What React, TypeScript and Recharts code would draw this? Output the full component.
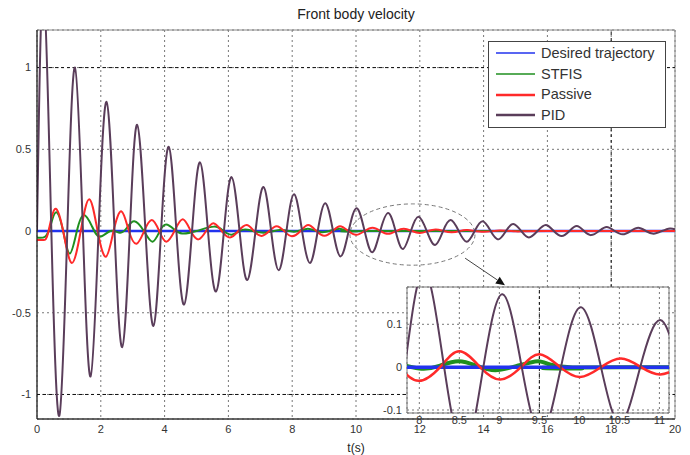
import {
  LineChart,
  Line,
  XAxis,
  YAxis,
  CartesianGrid,
  Legend,
  ReferenceArea,
  ReferenceLine,
} from 'recharts'

// axis ticks
const TIME_TICKS = [0, 2, 4, 6, 8, 10, 12, 14, 16, 18, 20]
const VEL_TICKS = [-1, -0.5, 0, 0.5, 1]
const ZOOM_T_TICKS = [8, 8.5, 9, 9.5, 10, 10.5, 11]
const ZOOM_V_TICKS = [-0.1, 0, 0.1]

// series (extrema + zero crossings)
const DESIRED_T = [0, 20]
const DESIRED_V = [0, 0]

const STFIS_T = [0, 0.25, 0.42, 0.6, 0.82, 1.03, 1.25, 1.47, 1.72, 1.97, 2.3, 2.6, 2.82, 3.05, 3.35, 3.62, 3.85, 4.05, 4.3, 4.55, 5.0, 5.55, 5.85, 6.1, 6.35, 6.6, 7.1, 7.6, 8.0, 8.25, 8.49, 8.72, 8.95, 9.22, 9.49, 9.72, 9.95, 10.5, 20]
const STFIS_V = [-0.04, -0.035, 0.03, 0.115, 0, -0.137, 0, 0.098, 0.03, -0.035, 0, -0.01, 0.02, 0.06, 0, -0.065, 0, 0.04, 0.01, -0.015, 0, 0.027, 0, -0.022, 0, 0.008, -0.01, 0.006, -0.003, 0.003, 0.014, 0.003, -0.007, 0.003, 0.014, 0.003, -0.003, 0, 0]

const PASSIVE_T = [0, 0.2, 0.35, 0.56, 0.82, 1.09, 1.37, 1.64, 1.9, 2.16, 2.4, 2.65, 2.88, 3.12, 3.36, 3.6, 3.83, 4.05, 4.31, 4.57, 4.82, 5.06, 5.3, 5.53, 5.79, 6.05, 6.31, 6.57, 6.8, 7.04, 7.28, 7.51, 7.75, 7.99, 8.26, 8.5, 8.76, 9.01, 9.27, 9.5, 9.76, 10.01, 10.27, 10.52, 10.77, 11.01, 11.26, 11.5, 11.75, 12.0, 12.25, 12.5, 12.75, 13.0, 13.25, 13.5, 14.0, 14.5, 15, 16, 20]
const PASSIVE_V = [-0.055, -0.055, -0.01, 0.135, 0, -0.195, 0, 0.195, 0, -0.157, 0, 0.12, 0, -0.078, 0, 0.067, 0, -0.065, 0, 0.072, 0, -0.051, 0, 0.047, 0, -0.039, 0, 0.037, 0, -0.03, 0, 0.03, 0, -0.032, 0, 0.037, 0, -0.029, 0, 0.03, 0, -0.023, 0, 0.02, 0, -0.017, 0, 0.014, 0, -0.012, 0, 0.01, 0, -0.008, 0, 0.006, -0.004, 0.003, -0.002, 0, 0]

const PID_T = [0, 0.2, 0.45, 0.7, 0.95, 1.19, 1.44, 1.68, 1.93, 2.18, 2.43, 2.67, 2.91, 3.14, 3.4, 3.65, 3.89, 4.13, 4.37, 4.61, 4.86, 5.11, 5.36, 5.61, 5.86, 6.1, 6.35, 6.59, 6.85, 7.1, 7.34, 7.58, 7.82, 8.06, 8.31, 8.56, 8.8, 9.04, 9.28, 9.52, 9.77, 10.02, 10.27, 10.51, 10.76, 11.01, 11.24, 11.47, 11.72, 11.96, 12.22, 12.48, 12.73, 12.97, 13.22, 13.47, 13.72, 13.97, 14.22, 14.46, 14.7, 14.93, 15.18, 15.42, 15.69, 15.95, 16.2, 16.45, 16.69, 16.92, 17.15, 17.37, 17.62, 17.86, 18.11, 18.36, 18.61, 18.85, 19.09, 19.33, 19.59, 19.84, 20]
const PID_V = [0, 1.5, 0, -1.13, 0, 1.0, 0, -0.89, 0, 0.79, 0, -0.71, 0, 0.65, 0, -0.58, 0, 0.515, 0, -0.45, 0, 0.42, 0, -0.37, 0, 0.33, 0, -0.3, 0, 0.27, 0, -0.24, 0, 0.225, 0, -0.195, 0, 0.17, 0, -0.155, 0, 0.14, 0, -0.13, 0, 0.11, 0, -0.11, 0, 0.088, 0, -0.086, 0, 0.067, 0, -0.066, 0, 0.06, 0, -0.051, 0, 0.043, 0, -0.039, 0, 0.037, 0, -0.031, 0, 0.031, 0, -0.025, 0, 0.025, 0, -0.02, 0, 0.02, 0, -0.016, 0, 0.016, 0.01]

const zip = (t: number[], v: number[]) => t.map((x, i) => ({ t: x, v: v[i] }))

const DESIRED = { name: 'Desired trajectory', data: zip(DESIRED_T, DESIRED_V), color: '#2233ee', width: 2.5, zoomWidth: 3.5, legendWidth: 1.5 }
const STFIS = { name: 'STFIS', data: zip(STFIS_T, STFIS_V), color: '#1f8f1f', width: 2, zoomWidth: 4, legendWidth: 1.5 }
const PASSIVE = { name: 'Passive', data: zip(PASSIVE_T, PASSIVE_V), color: '#ff2a2a', width: 2, zoomWidth: 2.5, legendWidth: 2.5 }
const PID = { name: 'PID', data: zip(PID_T, PID_V), color: '#5a3d5a', width: 2, zoomWidth: 2, legendWidth: 2.5 }

const SERIES = [DESIRED, STFIS, PASSIVE, PID]
// in the zoom the reference line sits over the STFIS band
const ZOOM_SERIES = [STFIS, DESIRED, PASSIVE, PID]

const FONT = '"Liberation Sans", Arial, sans-serif'
const tickStyle = { fontSize: 11, fill: '#333' }

function LegendBox() {
  return (
    <div style={{ border: '1px solid #444', background: '#fff', padding: '1px 0 1px 7px', boxSizing: 'border-box', width: 178 }}>
      {SERIES.map(s => (
        <div key={s.name} style={{ display: 'flex', alignItems: 'center', height: 20.7 }}>
          <svg width={39} height={6} style={{ display: 'block' }}>
            <line x1={0} y1={3} x2={39} y2={3} stroke={s.color} strokeWidth={s.legendWidth} />
          </svg>
          <span style={{ marginLeft: 6, fontSize: 14.5, color: '#333', lineHeight: '15px' }}>{s.name}</span>
        </div>
      ))}
    </div>
  )
}

function Ellipse(props: any) {
  const { x, y, width, height } = props
  return (
    <ellipse cx={x + width / 2} cy={y + height / 2} rx={width / 2} ry={height / 2}
      fill="none" stroke="#777" strokeWidth={1} strokeDasharray="4 3" />
  )
}

function Arrow(props: any) {
  const { x1, y1, x2, y2 } = props
  const a = Math.atan2(y2 - y1, x2 - x1)
  const bx = x2 - 9 * Math.cos(a)
  const by = y2 - 9 * Math.sin(a)
  const px = -Math.sin(a) * 4
  const py = Math.cos(a) * 4
  return (
    <g>
      <line x1={x1} y1={y1} x2={bx} y2={by} stroke="#444" strokeWidth={1} />
      <polygon points={`${x2},${y2} ${bx + px},${by + py} ${bx - px},${by - py}`} fill="#111" />
    </g>
  )
}

function MainChart() {
  return (
    <LineChart width={690} height={455} margin={{ top: 30, right: 15, bottom: 0, left: 0 }}>
      <CartesianGrid stroke="#777" strokeDasharray="2 3" />
      <ReferenceArea x1={0} x2={20} y1={-1.15} y2={1.23} fill="none" stroke="#888" />
      <ReferenceLine y={1} stroke="#111" strokeDasharray="3 3" />
      <ReferenceLine y={-1} stroke="#111" strokeDasharray="3 3" />
      <ReferenceLine x={18} stroke="#111" strokeDasharray="3 3" />
      <XAxis dataKey="t" type="number" domain={[0, 20]} ticks={TIME_TICKS} allowDataOverflow
        height={36} tickSize={0} tickMargin={6} tick={tickStyle} stroke="#111"
        label={{ value: 't(s)', position: 'insideBottom', offset: 3, fontSize: 12, fill: '#222' }} />
      <YAxis type="number" domain={[-1.15, 1.23]} ticks={VEL_TICKS} allowDataOverflow
        width={37} tickSize={0} tickMargin={6} tick={tickStyle} stroke="#111" />
      <Legend layout="vertical" align="center" verticalAlign="middle" content={<LegendBox />}
        wrapperStyle={{ left: 488, top: 41, width: 178 }} />
      {SERIES.map(s => (
        <Line key={s.name} data={s.data} dataKey="v" name={s.name} type="natural" stroke={s.color}
          strokeWidth={s.width} dot={false} activeDot={false} isAnimationActive={false} />
      ))}
      <ReferenceArea x1={9.81} x2={13.73} y1={-0.209} y2={0.166} shape={<Ellipse />} />
      <ReferenceLine segment={[{ x: 13.42, y: -0.166 }, { x: 14.67, y: -0.331 }]} shape={<Arrow />} />
    </LineChart>
  )
}

function ZoomChart() {
  return (
    <LineChart width={300} height={150} margin={{ top: 7, right: 6, bottom: 0, left: 0 }}>
      <CartesianGrid stroke="#777" strokeDasharray="2 3" fill="#fff" />
      <ReferenceLine x={9.5} stroke="#111" strokeDasharray="3 3" />
      <XAxis dataKey="t" type="number" domain={[7.846, 11.12]} ticks={ZOOM_T_TICKS} allowDataOverflow
        height={17} tickSize={0} tickMargin={3} tick={tickStyle} axisLine={false} />
      <YAxis type="number" domain={[-0.107, 0.187]} ticks={ZOOM_V_TICKS} allowDataOverflow
        width={32} tickSize={0} tickMargin={5} tick={tickStyle} axisLine={false} />
      {ZOOM_SERIES.map(s => (
        <Line key={s.name} data={s.data} dataKey="v" name={s.name} type="natural" stroke={s.color}
          strokeWidth={s.zoomWidth} dot={false} activeDot={false} isAnimationActive={false} />
      ))}
      <ReferenceArea x1={7.846} x2={11.12} y1={-0.107} y2={0.187} fill="none" stroke="#777" />
    </LineChart>
  )
}

export default function App() {
  return (
    <div style={{ position: 'absolute', left: 0, top: 0, width: 690, height: 455, background: '#fff', fontFamily: FONT }}>
      <div style={{ position: 'absolute', left: 37, top: 6, width: 638, textAlign: 'center', fontSize: 14, color: '#222' }}>
        Front body velocity
      </div>
      <MainChart />
      <div style={{ position: 'absolute', left: 375, top: 280 }}>
        <ZoomChart />
      </div>
    </div>
  )
}
